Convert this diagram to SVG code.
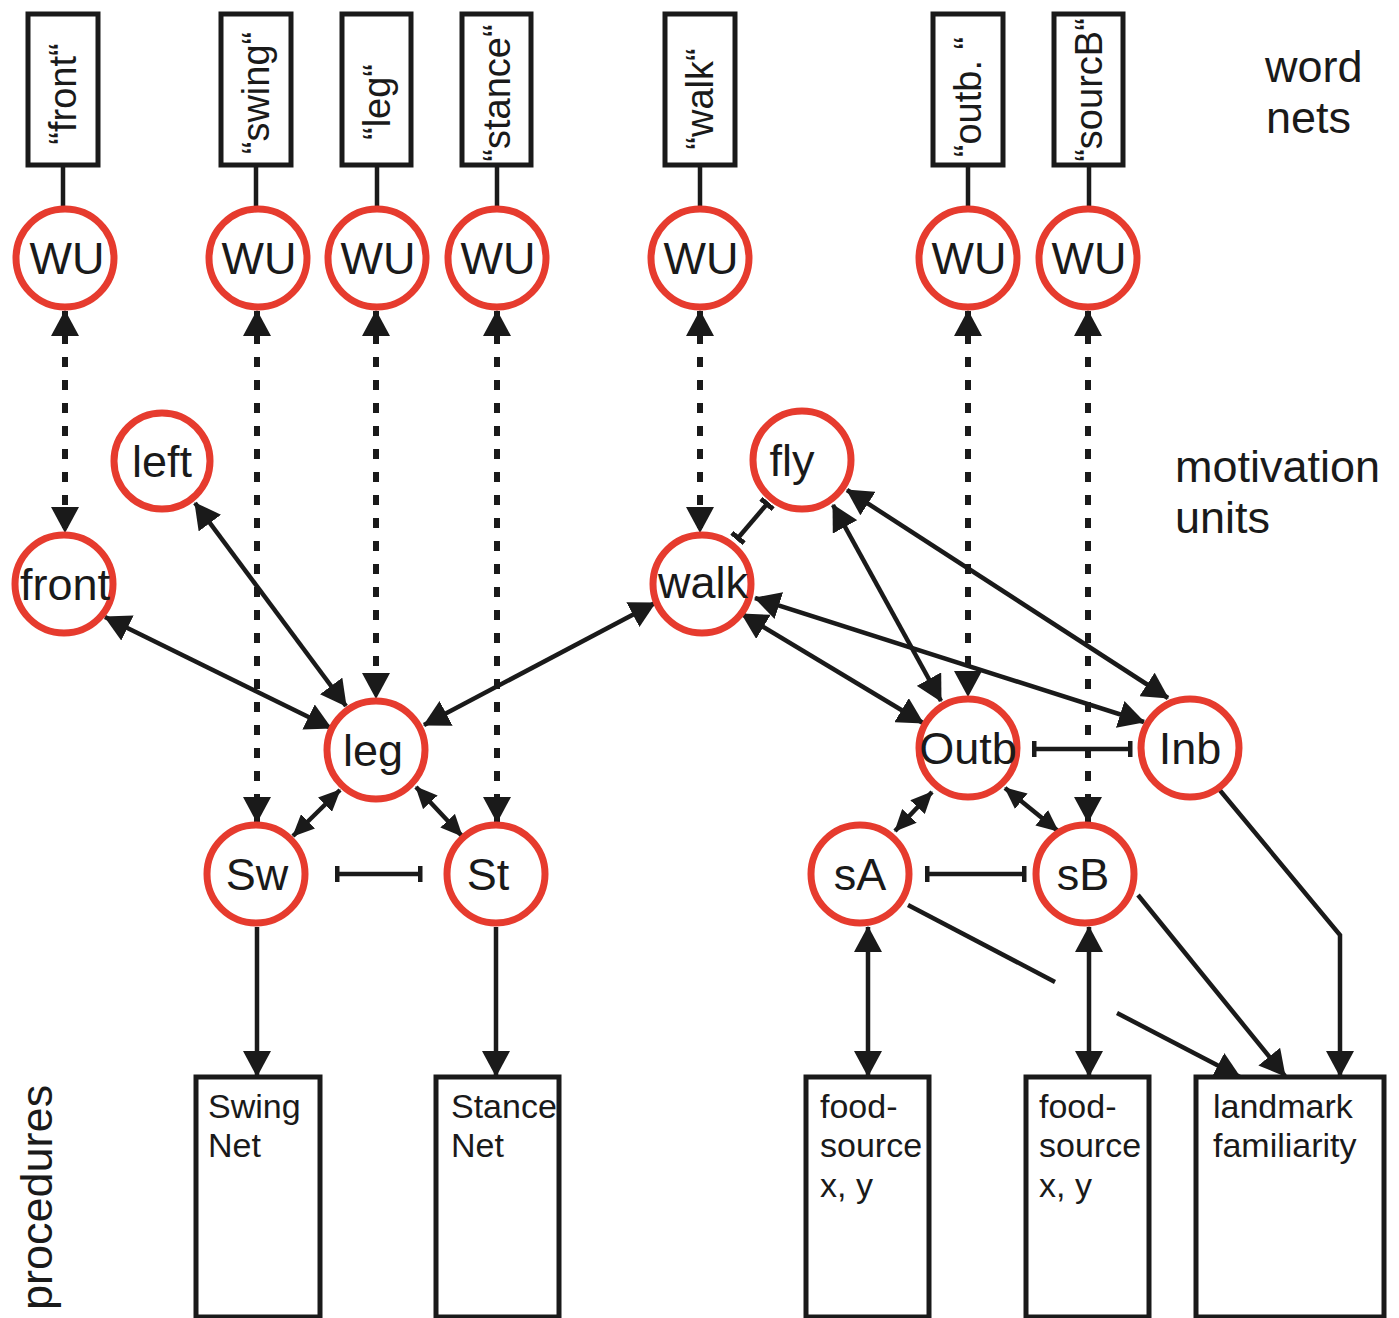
<svg xmlns="http://www.w3.org/2000/svg" width="1399" height="1318" viewBox="0 0 1399 1318">
<style>
.bg{fill:#fff}
.box{fill:#fff;stroke:#1a1a1a;stroke-width:5}
.u{fill:#fff;stroke:#e63b2e;stroke-width:7}
.t{font-family:"Liberation Sans",Arial,sans-serif;fill:#1a1a1a}
.wt{font-size:38px}
.ut{font-size:45px;text-anchor:middle}
.bt{font-size:34px}
.lab{font-size:45px}
.ln{stroke:#1a1a1a;stroke-width:4.5;fill:none}
.dot{stroke:#1a1a1a;stroke-width:6;fill:none;stroke-dasharray:10 13}
.a2{marker-start:url(#ah);marker-end:url(#ah)}
.a1{marker-end:url(#ah)}
.s2{marker-start:url(#ahs);marker-end:url(#ahs)}
.inh{marker-start:url(#bar);marker-end:url(#bar)}
</style>
<defs>
<marker id="ah" viewBox="0 0 26 28" refX="25" refY="14" markerWidth="26" markerHeight="28" markerUnits="userSpaceOnUse" orient="auto-start-reverse"><path d="M0,0 L26,14 L0,28 z" fill="#1a1a1a"/></marker>
<marker id="ahs" viewBox="0 0 22 20" refX="21" refY="10" markerWidth="22" markerHeight="20" markerUnits="userSpaceOnUse" orient="auto-start-reverse"><path d="M0,0 L22,10 L0,20 z" fill="#1a1a1a"/></marker>
<marker id="bar" viewBox="0 0 5 16" refX="2.5" refY="8" markerWidth="5" markerHeight="16" markerUnits="userSpaceOnUse" orient="auto"><rect width="5" height="16" fill="#1a1a1a"/></marker>
</defs>
<rect class="bg" width="1399" height="1318"/>

<g id="connectors">
<path class="ln" d="M63,165V208 M256,165V208 M377,165V208 M497,165V208 M700,165V208 M968,165V208 M1089,165V208"/>
<line class="dot a2" x1="65" y1="311" x2="65" y2="532"/>
<line class="dot a2" x1="257" y1="311" x2="257" y2="822"/>
<line class="dot a2" x1="376" y1="311" x2="376" y2="698"/>
<line class="dot a2" x1="497" y1="311" x2="497" y2="822"/>
<line class="dot a2" x1="700" y1="311" x2="700" y2="532"/>
<line class="dot a2" x1="968" y1="311" x2="968" y2="696"/>
<line class="dot a2" x1="1088" y1="311" x2="1088" y2="822"/>
<line class="ln a2" x1="195" y1="503" x2="346" y2="706"/>
<line class="ln a2" x1="105" y1="617" x2="331" y2="728"/>
<line class="ln a2" x1="655" y1="603" x2="424" y2="725"/>
<line class="ln s2" x1="340" y1="790" x2="293" y2="836"/>
<line class="ln s2" x1="416" y1="787" x2="462" y2="836"/>
<line class="ln inh" x1="337" y1="874" x2="420" y2="874"/>
<line class="ln a1" x1="257" y1="927" x2="257" y2="1076"/>
<line class="ln a1" x1="496" y1="927" x2="496" y2="1076"/>
<line class="ln inh" x1="738" y1="538" x2="767" y2="504"/>
<line class="ln a2" x1="833" y1="505" x2="941" y2="701"/>
<line class="ln a2" x1="847" y1="490" x2="1168" y2="698"/>
<line class="ln a2" x1="742" y1="614" x2="923" y2="723"/>
<line class="ln a2" x1="755" y1="598" x2="1144" y2="722"/>
<line class="ln inh" x1="1034" y1="749" x2="1130" y2="749"/>
<line class="ln s2" x1="932" y1="792" x2="895" y2="831"/>
<line class="ln s2" x1="1005" y1="788" x2="1058" y2="831"/>
<line class="ln inh" x1="927" y1="874" x2="1024" y2="874"/>
<line class="ln a2" x1="868" y1="927" x2="868" y2="1076"/>
<line class="ln a2" x1="1089" y1="927" x2="1089" y2="1076"/>
<line class="ln" x1="908" y1="905" x2="1055" y2="982"/>
<line class="ln a1" x1="1117" y1="1013" x2="1240" y2="1077"/>
<line class="ln a1" x1="1138" y1="895" x2="1285" y2="1076"/>
<path class="ln a1" d="M1218,788 L1340,935 L1340,1076"/>
</g>

<g id="word-front"><rect class="box" x="28" y="14" width="70" height="151"/><text class="t wt" text-anchor="middle" transform="translate(76,94) rotate(-90)">“front“</text></g>
<g id="word-swing"><rect class="box" x="221" y="14" width="70" height="151"/><text class="t wt" text-anchor="middle" transform="translate(269,93) rotate(-90)">“swing“</text></g>
<g id="word-leg"><rect class="box" x="342" y="14" width="69" height="151"/><text class="t wt" text-anchor="middle" transform="translate(390,102) rotate(-90)">“leg“</text></g>
<g id="word-stance"><rect class="box" x="462" y="14" width="69" height="151"/><text class="t wt" text-anchor="middle" transform="translate(510,93) rotate(-90)">“stance“</text></g>
<g id="word-walk"><rect class="box" x="665" y="14" width="70" height="151"/><text class="t wt" text-anchor="middle" transform="translate(713,99) rotate(-90)">“walk“</text></g>
<g id="word-outb"><rect class="box" x="933" y="14" width="70" height="151"/><text class="t wt" text-anchor="middle" transform="translate(981,97) rotate(-90)">“outb. “</text></g>
<g id="word-sourcB"><rect class="box" x="1054" y="14" width="69" height="151"/><text class="t wt" text-anchor="middle" transform="translate(1102,90) rotate(-90)">“sourcB“</text></g>

<g id="wu-front"><circle class="u" cx="65" cy="258" r="49"/><text class="t ut" x="67" y="274">WU</text></g>
<g id="wu-swing"><circle class="u" cx="258" cy="258" r="49"/><text class="t ut" x="259" y="274">WU</text></g>
<g id="wu-leg"><circle class="u" cx="377" cy="258" r="49"/><text class="t ut" x="378" y="274">WU</text></g>
<g id="wu-stance"><circle class="u" cx="497" cy="258" r="49"/><text class="t ut" x="498" y="274">WU</text></g>
<g id="wu-walk"><circle class="u" cx="700" cy="258" r="49"/><text class="t ut" x="701" y="274">WU</text></g>
<g id="wu-outb"><circle class="u" cx="968" cy="258" r="49"/><text class="t ut" x="969" y="274">WU</text></g>
<g id="wu-sourcB"><circle class="u" cx="1088" cy="258" r="49"/><text class="t ut" x="1089" y="274">WU</text></g>

<g id="m-left"><circle class="u" cx="162" cy="461" r="48"/><text class="t ut" x="162" y="477">left</text></g>
<g id="m-front"><circle class="u" cx="64" cy="584" r="49"/><text class="t ut" x="65" y="600">front</text></g>
<g id="m-fly"><circle class="u" cx="802" cy="460" r="49"/><text class="t ut" x="792" y="476">fly</text></g>
<g id="m-walk"><circle class="u" cx="702" cy="584" r="49"/><text class="t ut" x="703" y="598">walk</text></g>
<g id="m-leg"><circle class="u" cx="376" cy="750" r="49"/><text class="t ut" x="373" y="766">leg</text></g>
<g id="m-outb"><circle class="u" cx="968" cy="748" r="49"/><text class="t ut" x="968" y="764">Outb</text></g>
<g id="m-inb"><circle class="u" cx="1190" cy="748" r="49"/><text class="t ut" x="1190" y="764">Inb</text></g>
<g id="m-sw"><circle class="u" cx="256" cy="874" r="49"/><text class="t ut" x="257" y="890">Sw</text></g>
<g id="m-st"><circle class="u" cx="496" cy="874" r="49"/><text class="t ut" x="488" y="890">St</text></g>
<g id="m-sa"><circle class="u" cx="860" cy="874" r="49"/><text class="t ut" x="860" y="890">sA</text></g>
<g id="m-sb"><circle class="u" cx="1085" cy="874" r="49"/><text class="t ut" x="1083" y="890">sB</text></g>

<g id="p-swing"><rect class="box" x="196" y="1077" width="124" height="240"/><text class="t bt" x="208" y="1118">Swing</text><text class="t bt" x="208" y="1157">Net</text></g>
<g id="p-stance"><rect class="box" x="436" y="1077" width="123" height="240"/><text class="t bt" x="451" y="1118">Stance</text><text class="t bt" x="451" y="1157">Net</text></g>
<g id="p-foodA"><rect class="box" x="806" y="1077" width="123" height="240"/><text class="t bt" x="820" y="1118">food-</text><text class="t bt" x="820" y="1157">source</text><text class="t bt" x="820" y="1197">x, y</text></g>
<g id="p-foodB"><rect class="box" x="1026" y="1077" width="123" height="240"/><text class="t bt" x="1039" y="1118">food-</text><text class="t bt" x="1039" y="1157">source</text><text class="t bt" x="1039" y="1197">x, y</text></g>
<g id="p-landmark"><rect class="box" x="1196" y="1077" width="188" height="240"/><text class="t bt" x="1213" y="1118">landmark</text><text class="t bt" x="1213" y="1157">familiarity</text></g>

<g id="labels">
<text class="t lab" x="1265" y="82">word</text>
<text class="t lab" x="1266" y="133">nets</text>
<text class="t lab" x="1175" y="482">motivation</text>
<text class="t lab" x="1175" y="533">units</text>
<text class="t lab" transform="translate(52,1310) rotate(-90)">procedures</text>
</g>
</svg>
